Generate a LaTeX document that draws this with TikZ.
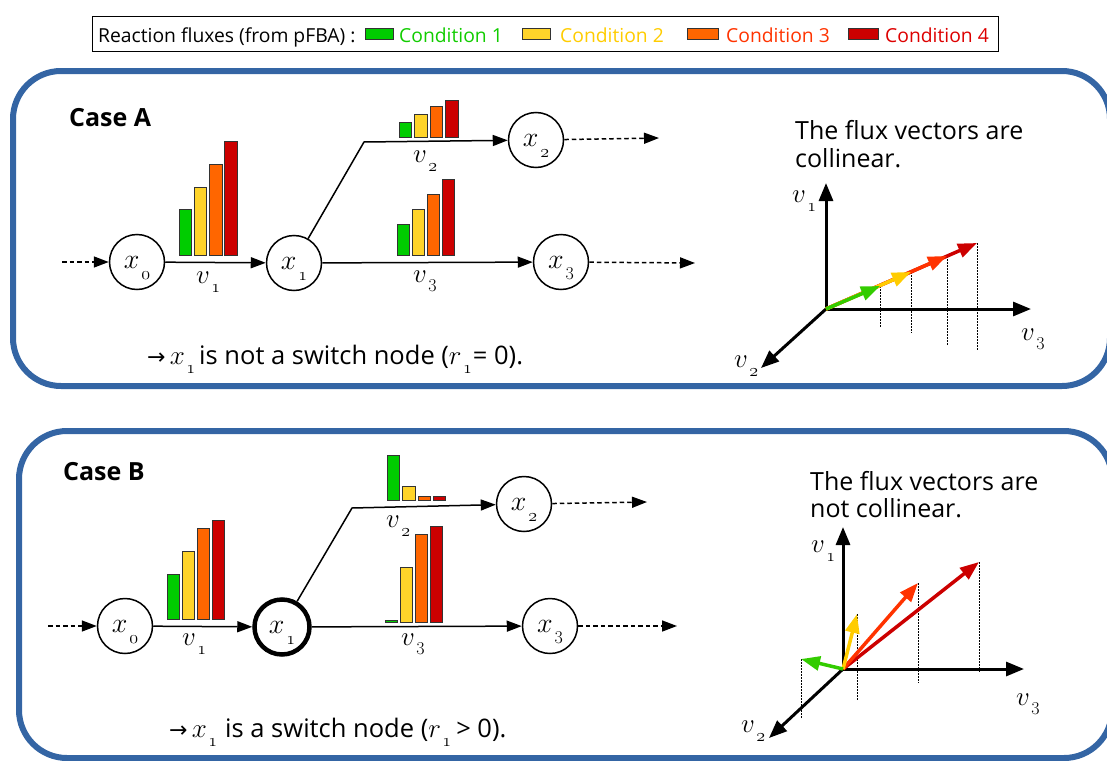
\RequirePackage{fix-cm}
\documentclass[tikz,border=0pt]{standalone}
\usepackage{fontspec}
\setmainfont{Open Sans}
\newfontfamily\symfont{DejaVu Sans}
\usetikzlibrary{arrows.meta}
\definecolor{cgreen}{HTML}{00CC00}
\definecolor{cyellow}{HTML}{FFD42A}
\definecolor{corange}{HTML}{FF6600}
\definecolor{cred}{HTML}{CC0000}
\definecolor{tgreen}{HTML}{11CC00}
\definecolor{tyellow}{HTML}{FFCC00}
\definecolor{torange}{HTML}{FF3300}
\definecolor{tred}{HTML}{DD0000}
\definecolor{vgreen}{HTML}{33CC00}
\definecolor{vyellow}{HTML}{FFCC00}
\definecolor{vorange}{HTML}{FF3300}
\definecolor{vred}{HTML}{CC0000}
\definecolor{panelblue}{HTML}{3465A4}
\definecolor{barline}{HTML}{333333}
\newcommand\mlab[2]{{\fontsize{28}{28}\selectfont$#1$}\kern2pt\smash{\raisebox{-11pt}{\fontsize{18}{18}\selectfont$#2$}}}
\newcommand\tlab[2]{{\fontsize{27}{27}\selectfont$#1$}\kern1.5pt\smash{\raisebox{-9.5pt}{\fontsize{18}{18}\selectfont$#2$}}}
\tikzset{
  panel/.style={draw=panelblue, line width=6pt, rounded corners=48pt},
  state/.style={circle, draw=black, line width=1.5pt, minimum size=55pt, inner sep=0pt, fill=white},
  switchstate/.style={state, line width=4.5pt},
  flow/.style={line width=1.5pt, -{Triangle[length=15pt,width=11pt]}},
  dflow/.style={flow, dash pattern=on 4.5pt off 3pt},
  axis/.style={line width=3pt, -{Triangle[length=18pt,width=14pt]}},
  vec/.style={line width=3.5pt, -{Triangle[length=19pt,width=14pt]}},
  proj/.style={line width=0.8pt, dash pattern=on 1.5pt off 1.5pt},
  bar/.style={draw=barline, line width=1pt},
  lab/.style={inner sep=0pt, anchor=base west},
  legtxt/.style={lab, font=\fontsize{19.3}{21}\selectfont},
  casetxt/.style={lab, font=\bfseries\fontsize{25}{28}\selectfont},
  bigtxt/.style={lab, font=\fontsize{25}{29}\selectfont},
  bottxt/.style={lab, font=\fontsize{25.5}{29}\selectfont},
}
\begin{document}
\begin{tikzpicture}[x=1pt,y=-1pt]
\useasboundingbox (0,0) rectangle (1107,760);
\clip (0,0) rectangle (1107,760);
% legend
\draw[line width=1pt] (92,17) rectangle (998,52);
\node[legtxt] (legt) at (98,42) {Reaction fluxes (from pFBA) :};
\draw[bar, fill=cgreen] (365,29) rectangle (393,40);
\node[legtxt, text=tgreen] (l1) at (399,42) {Condition 1};
\draw[bar, fill=cyellow] (522,29) rectangle (550,40);
\node[legtxt, text=tyellow] (l2) at (560,42) {Condition 2};
\draw[bar, fill=corange] (687,29) rectangle (718,40);
\node[legtxt, text=torange] (l3) at (726,42) {Condition 3};
\draw[bar, fill=cred] (848,29) rectangle (878,40);
\node[legtxt, text=tred] (l4) at (885,42) {Condition 4};
% panels
\draw[panel] (13,71) rectangle (1110,386);
\draw[panel] (19,431) rectangle (1112,758);

% ================= Case A =================
\node[casetxt] (caseA) at (69,126) {Case A};
% bars v1
\draw[bar, fill=cgreen]  (179,209) rectangle (191.5,255);
\draw[bar, fill=cyellow] (194.3,187) rectangle (206.8,255);
\draw[bar, fill=corange] (209.6,164) rectangle (222.1,255);
\draw[bar, fill=cred]    (224.9,141) rectangle (237.4,255);
% bars v2
\draw[bar, fill=cgreen]  (399,122) rectangle (411.5,137);
\draw[bar, fill=cyellow] (414.5,114) rectangle (427,137);
\draw[bar, fill=corange] (430,106) rectangle (442.5,137);
\draw[bar, fill=cred]    (445.5,100) rectangle (458,137);
% bars v3
\draw[bar, fill=cgreen]  (397,224) rectangle (409.5,255);
\draw[bar, fill=cyellow] (412,209) rectangle (424.5,255);
\draw[bar, fill=corange] (427,194) rectangle (439.5,255);
\draw[bar, fill=cred]    (442,179) rectangle (454.5,255);
% nodes
\node[state] (ax0) at (137,262) {\mlab{x}{\mathnormal{0}}};
\node[state] (ax1) at (294,263) {\mlab{x}{\mathnormal{1}}};
\node[state] (ax2) at (536,140) {\mlab{x}{\mathnormal{2}}};
\node[state] (ax3) at (561,262) {\mlab{x}{3}};
\coordinate (ain) at (62,262);
\coordinate (aout2) at (659,138);
\coordinate (aout3) at (695,263);
\coordinate (abend) at (364,142);
\draw[dflow] (ain) -- (ax0);
\draw[flow] (ax0) -- (ax1);
\draw[flow] (ax1) -- (abend) -- (ax2);
\draw[flow] (ax1) -- (ax3);
\draw[dflow] (ax2) -- (aout2);
\draw[dflow] (ax3) -- (aout3);
\node[lab] (av1) at (196,283) {\tlab{v}{\mathnormal{1}}};
\node[lab] (av2) at (413,162) {\tlab{v}{\mathnormal{2}}};
\node[lab] (av3) at (413,282) {\tlab{v}{3}};
\node[bottxt] (aconc) at (147,364) {{\symfont\fontsize{22}{22}\selectfont →}\,\tlab{x}{\mathnormal{1}}\kern4pt is not a switch node (\tlab{r}{\mathnormal{1}}\kern1pt= 0).};
% plot A
\node[bigtxt] (aT1) at (795,139) {The flux vectors are};
\node[bigtxt] (aT2) at (795,167) {collinear.};
\coordinate (aO) at (826,309);
\coordinate (aE1) at (826,183);
\coordinate (aE3) at (1031,309);
\coordinate (aE2) at (761,368);
\draw[axis] (aO) -- (aE1);
\draw[axis] (aO) -- (aE3);
\draw[axis] (aO) -- (aE2);
\node[lab] (ap1) at (792,202) {\tlab{v}{\mathnormal{1}}};
\node[lab] (ap3) at (1021,340) {\tlab{v}{3}};
\node[lab] (ap2) at (734,367) {\tlab{v}{\mathnormal{2}}};
\coordinate (aR) at (977,243);
\coordinate (aOr) at (947,256);
\coordinate (aY) at (911,272);
\coordinate (aG) at (880,286);
\draw[proj] (aG) -- (880,327);
\draw[proj] (aY) -- (911,333);
\draw[proj] (aOr) -- (947,345);
\draw[proj] (aR) -- (977,350);
\draw[vec, vred] (aO) -- (aR);
\draw[vec, vorange] (aO) -- (aOr);
\draw[vec, vyellow] (aO) -- (aY);
\draw[vec, vgreen] (aO) -- (aG);

% ================= Case B =================
\node[casetxt] (caseB) at (63,480) {Case B};
% bars v1
\draw[bar, fill=cgreen]  (167,574) rectangle (179.5,619);
\draw[bar, fill=cyellow] (182,551) rectangle (194.5,619);
\draw[bar, fill=corange] (197,528) rectangle (209.5,619);
\draw[bar, fill=cred]    (212,520) rectangle (224.5,619);
% bars v2
\draw[bar, fill=cgreen]  (387,455) rectangle (399.5,500);
\draw[bar, fill=cyellow] (402.5,486) rectangle (415,500);
\draw[bar, fill=corange] (418,496.5) rectangle (430.5,500);
\draw[bar, fill=cred]    (433,496.5) rectangle (445.5,500);
% bars v3
\draw[bar, fill=cgreen]  (385,620.5) rectangle (397.5,622);
\draw[bar, fill=cyellow] (400,567) rectangle (412.5,622);
\draw[bar, fill=corange] (415,534) rectangle (427.5,622);
\draw[bar, fill=cred]    (430,526) rectangle (442.5,622);
% nodes
\node[state] (bx0) at (125,626) {\mlab{x}{\mathnormal{0}}};
\node[switchstate] (bx1) at (282,627) {\mlab{x}{\mathnormal{1}}};
\node[state] (bx2) at (524,504) {\mlab{x}{\mathnormal{2}}};
\node[state] (bx3) at (550,626) {\mlab{x}{3}};
\coordinate (bin) at (48,626);
\coordinate (bout2) at (647,502);
\coordinate (bout3) at (677,626);
\coordinate (bbend) at (352,508);
\draw[dflow] (bin) -- (bx0);
\draw[flow] (bx0) -- (bx1);
\draw[flow] (bx1) -- (bbend) -- (bx2);
\draw[flow] (bx1) -- (bx3);
\draw[dflow] (bx2) -- (bout2);
\draw[dflow] (bx3) -- (bout3);
\node[lab] (bv1) at (182,645) {\tlab{v}{\mathnormal{1}}};
\node[lab] (bv2) at (386,527) {\tlab{v}{\mathnormal{2}}};
\node[lab] (bv3) at (401,645) {\tlab{v}{3}};
\node[bottxt] (bconc) at (169,737) {{\symfont\fontsize{22}{22}\selectfont →}\,\tlab{x}{\mathnormal{1}}\kern8pt is a switch node (\tlab{r}{\mathnormal{1}}\kern5pt> 0).};
% plot B
\node[bigtxt] (bT1) at (810,490) {The flux vectors are};
\node[bigtxt] (bT2) at (810,517) {not collinear.};
\coordinate (bO) at (843,669);
\coordinate (bE1) at (843,527);
\coordinate (bE3) at (1024,669);
\coordinate (bE2) at (769,738);
\draw[axis] (bO) -- (bE1);
\draw[axis] (bO) -- (bE3);
\draw[axis] (bO) -- (bE2);
\node[lab] (bp1) at (811,552) {\tlab{v}{\mathnormal{1}}};
\node[lab] (bp3) at (1016,705) {\tlab{v}{3}};
\node[lab] (bp2) at (741,732) {\tlab{v}{\mathnormal{2}}};
\coordinate (bG) at (801,659);
\coordinate (bY) at (857,614);
\coordinate (bOr) at (918,583);
\coordinate (bR) at (979,562);
\draw[proj] (bG) -- (801,718);
\draw[proj] (bY) -- (857,701);
\draw[proj] (bOr) -- (918,683);
\draw[proj] (bR) -- (979,672);
\draw[vec, vred] (bO) -- (bR);
\draw[vec, vorange] (bO) -- (bOr);
\draw[vec, vyellow] (bO) -- (bY);
\draw[vec, vgreen] (bO) -- (bG);
\end{tikzpicture}
\end{document}
